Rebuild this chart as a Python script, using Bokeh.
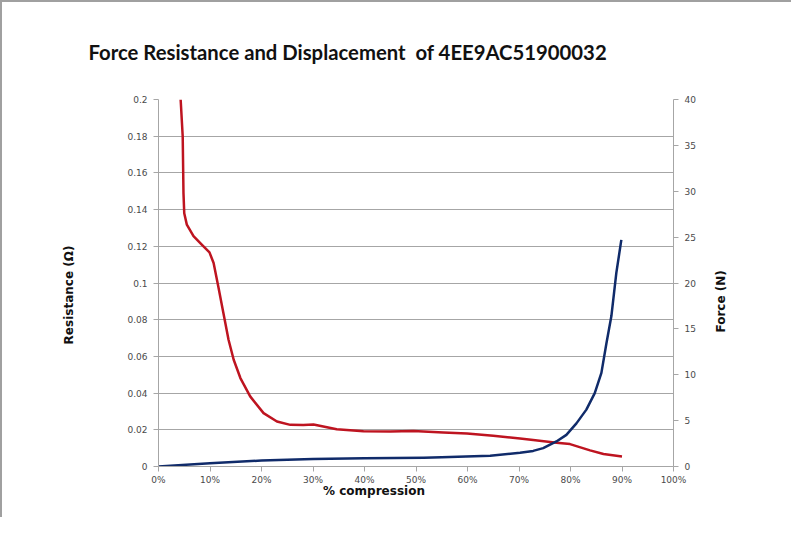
from bokeh.plotting import figure
from bokeh.models import (Range1d, LinearAxis, FixedTicker, PrintfTickFormatter,
                          CustomJSTickFormatter, Title)
from bokeh.embed import file_html
from bokeh.resources import INLINE
import math

# ---- data ----
res_pct = [4.3, 4.7, 4.85, 5.0, 5.5, 6.8, 8.4, 9.9, 10.7, 11.6, 12.6, 13.6, 14.6,
           15.9, 17.8, 20.4, 23.0, 25.6, 28.1, 30.1, 34.6, 39.8, 45.0, 49.5, 55.3,
           59.9, 65.0, 70.2, 72.75, 77.3, 79.9, 83.8, 86.4, 90.0]
res_val = [0.2, 0.18, 0.149, 0.138, 0.1318, 0.1255, 0.1209, 0.1167, 0.1109, 0.0982,
           0.0836, 0.0691, 0.0582, 0.0482, 0.0382, 0.0291, 0.0245, 0.0227, 0.0226,
           0.0229, 0.0203, 0.0192, 0.0191, 0.0194, 0.0185, 0.018, 0.0167, 0.0153,
           0.0145, 0.013, 0.0122, 0.0088, 0.0068, 0.0055]
force_pct = [0, 10, 20, 30, 40, 51.5, 55, 64.4, 70.2, 72.75, 74.7, 77.27, 79.2,
             81.15, 83.08, 84.71, 86.0, 86.97, 87.94, 88.9, 89.87]
force_val = [0, 0.36, 0.65, 0.83, 0.9, 0.95, 1.0, 1.17, 1.5, 1.7, 2.0, 2.73, 3.45,
             4.7, 6.2, 8.0, 10.2, 13.4, 16.4, 21.1, 24.7]

x_ticks = [0, 10, 20, 30, 40, 50, 60, 70, 80, 90, 100]
res_ticks = [0, 0.02, 0.04, 0.06, 0.08, 0.1, 0.12, 0.14, 0.16, 0.18, 0.2]
force_ticks = [0, 5, 10, 15, 20, 25, 30, 35, 40]

title_text = "Force Resistance and Displacement\u00a0 of 4EE9AC51900032"
x_label = "% compression"
y_label = "Resistance (\u03a9)"
y2_label = "Force (N)"

RED = "#BE1420"
BLUE = "#102B6A"
GRID = "#A6A6A6"
TICKTXT = "#4A4A4A"
LBL = "#111111"

W, H = 791, 517
Y2_LABEL_POS = 14.6   # where the rotated right-hand title starts (force units)

p = figure(width=W, height=H, output_backend="svg", toolbar_location=None,
           x_range=Range1d(0, 100), y_range=Range1d(0, 0.2),
           min_border_left=156, min_border_right=120,
           min_border_top=97, min_border_bottom=53,
           y_axis_location=None, x_axis_location=None,
           title=None)
p.outline_line_color = None
p.background_fill_color = "white"
p.border_fill_color = "white"
p.styles = {"border-top": "2px solid #A0A0A0", "border-left": "2px solid #A0A0A0",
            "box-sizing": "border-box"}

p.add_layout(Title(text=title_text, text_font="Lato", text_font_style="bold",
                   text_font_size="20.3px", text_color=LBL, align="left",
                   offset=-70, standoff=71), "above")

p.extra_y_ranges = {"force": Range1d(0, 40)}

def style_axis(ax):
    ax.axis_line_color = GRID
    ax.major_tick_line_color = GRID
    ax.minor_tick_line_color = None
    ax.major_tick_out = 5
    ax.major_tick_in = 0
    ax.major_label_text_font = "DejaVu Sans"
    ax.major_label_text_font_size = "9px"
    ax.major_label_text_color = TICKTXT
    ax.axis_label_text_font = "DejaVu Sans"
    ax.axis_label_text_font_style = "bold"
    ax.axis_label_text_font_size = "12px"
    ax.axis_label_text_color = LBL

xax = LinearAxis(ticker=FixedTicker(ticks=x_ticks),
                 formatter=PrintfTickFormatter(format="%d%%"))
style_axis(xax)
xax.major_label_standoff = 3
xax.axis_label = x_label + "\u2003" * 7
xax.axis_label_standoff = -4
p.add_layout(xax, "below")

yax = LinearAxis(ticker=FixedTicker(ticks=res_ticks),
                 formatter=CustomJSTickFormatter(code="return String(Math.round(tick*100)/100);"))
style_axis(yax)
yax.major_label_standoff = 6
yax.axis_label = y_label + "\u2003" * 2
yax.axis_label_standoff = 48
p.add_layout(yax, "left")

y2 = LinearAxis(y_range_name="force", ticker=FixedTicker(ticks=force_ticks))
style_axis(y2)
y2.major_label_standoff = 6
p.add_layout(y2, "right")

# right-hand axis title, drawn as a rotated label on a line-less axis
y2lab = LinearAxis(y_range_name="force", ticker=FixedTicker(ticks=[Y2_LABEL_POS]),
                   formatter=CustomJSTickFormatter(args=dict(label=y2_label),
                                                   code="return label;"))
y2lab.axis_line_color = None
y2lab.major_tick_line_color = None
y2lab.minor_tick_line_color = None
y2lab.major_tick_out = 0
y2lab.major_tick_in = 0
y2lab.major_label_standoff = 23
y2lab.major_label_orientation = math.pi / 2
y2lab.major_label_text_font = "DejaVu Sans"
y2lab.major_label_text_font_style = "bold"
y2lab.major_label_text_font_size = "12px"
y2lab.major_label_text_color = LBL
p.add_layout(y2lab, "right")

p.xgrid.visible = False
p.ygrid.ticker = FixedTicker(ticks=res_ticks)
p.ygrid.grid_line_color = GRID
p.ygrid.grid_line_width = 1

p.line(res_pct, res_val, line_color=RED, line_width=2.5, line_join="round")
p.line(force_pct, force_val, line_color=BLUE, line_width=2.5, line_join="round",
       y_range_name="force")

open("out.html", "w").write(file_html(p, INLINE))
